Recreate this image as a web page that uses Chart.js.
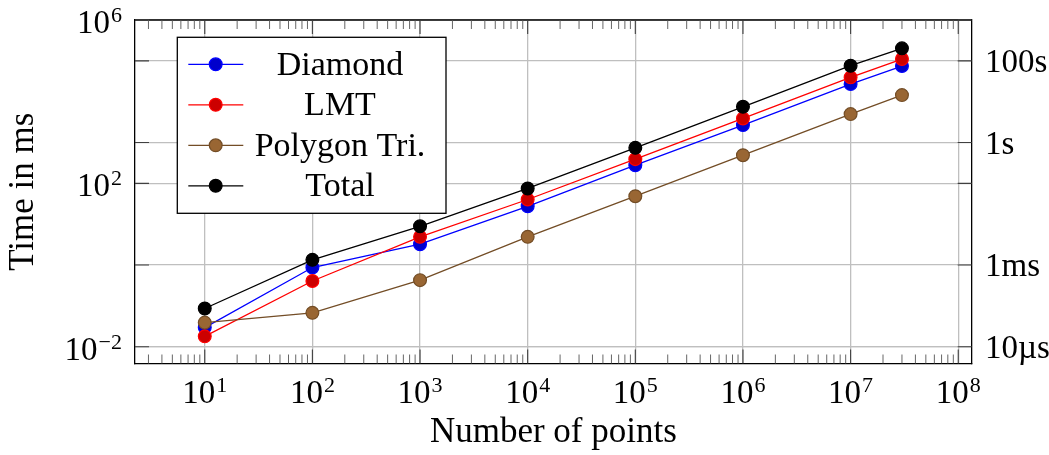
<!DOCTYPE html>
<html><head><meta charset="utf-8">
<script src="https://cdn.jsdelivr.net/npm/chart.js@4"></script>
<style>html,body{margin:0;padding:0;background:#fff}canvas{display:block}</style>
</head><body>
<canvas id="c" width="1049" height="455"></canvas>
<script>
// ---- data ----
const numberOfPoints = [10, 100, 1e3, 1e4, 1e5, 1e6, 1e7, 3e7];
const diamondMs  = [0.0295, 0.87, 3.24, 27.5, 279, 2670, 27000, 74600];
const lmtMs      = [0.018, 0.407, 4.9, 40.3, 392, 3890, 39400, 110700];
const polygonMs  = [0.039, 0.0676, 0.427, 4.9, 48.5, 490, 4970, 14500];
const totalMs    = [0.0865, 1.34, 8.9, 75, 741, 7500, 75900, 202000];
const seriesNames = ['Diamond', 'LMT', 'Polygon Tri.', 'Total'];

const xTickValues = [1e1, 1e2, 1e3, 1e4, 1e5, 1e6, 1e7, 1e8];
const xTickExponents = ['1', '2', '3', '4', '5', '6', '7', '8'];
const yLeftTickValues = [1e-2, 1e2, 1e6];
const yLeftTickExponents = ['\u22122', '2', '6'];
const yRightTickValues = [1e-2, 1, 1e3, 1e5];
const yRightTickLabels = ['10\u00b5s', '1ms', '1s', '100s'];
const xTitle = 'Number of points';
const yTitle = 'Time in ms';

// ---- styling ----
const FONT = '"Liberation Serif", "DejaVu Serif", serif';
const BASE = 33, SUP = 22, TITLE = 35, LEG = 34;
const GRID = '#bfbfbf';

function toXY(ys) { return numberOfPoints.map((x, i) => ({x, y: ys[i]})); }
function ds(label, ys, line, fill, order) {
  return {label, data: toXY(ys), showLine: true, borderColor: line, borderWidth: 1.3,
    pointBackgroundColor: fill, pointBorderColor: line, pointBorderWidth: 1.2,
    pointRadius: 6.4, pointHoverRadius: 6.4, fill: false, tension: 0, order};
}

function drawPow(ctx, exp, ax, baseline, align) {
  ctx.font = BASE + 'px ' + FONT; const wb = ctx.measureText('10').width;
  ctx.font = SUP + 'px ' + FONT; const we = ctx.measureText(exp).width;
  const total = wb + 1 + we;
  const left = align === 'center' ? ax - total / 2 : (align === 'right' ? ax - total : ax);
  ctx.textAlign = 'left'; ctx.textBaseline = 'alphabetic';
  ctx.font = BASE + 'px ' + FONT; ctx.fillText('10', left, baseline);
  ctx.font = SUP + 'px ' + FONT; ctx.fillText(exp, left + wb + 1, baseline - 11);
}

const decor = {
  id: 'decor',
  afterDraw(chart) {
    const {ctx, chartArea: a, scales: {x, y}} = chart;
    ctx.save();
    // top border
    ctx.strokeStyle = '#000'; ctx.lineWidth = 1.3;
    ctx.beginPath(); ctx.moveTo(a.left, a.top); ctx.lineTo(a.right, a.top); ctx.stroke();
    // tick marks
    ctx.strokeStyle = '#404040'; ctx.lineWidth = 1.1;
    ctx.beginPath();
    xTickValues.forEach(v => {
      const px = x.getPixelForValue(v);
      if (px < a.left || px > a.right) return;
      ctx.moveTo(px, a.bottom); ctx.lineTo(px, a.bottom - 14);
      ctx.moveTo(px, a.top); ctx.lineTo(px, a.top + 14);
    });
    yLeftTickValues.concat(yRightTickValues).forEach(v => {
      const py = y.getPixelForValue(v);
      ctx.moveTo(a.left, py); ctx.lineTo(a.left + 14, py);
      ctx.moveTo(a.right, py); ctx.lineTo(a.right - 14, py);
    });
    ctx.stroke();
    ctx.strokeStyle = '#555'; ctx.lineWidth = 0.9;
    ctx.beginPath();
    for (let k = 0; k <= 8; k++) {
      for (let m = 2; m <= 9; m++) {
        const v = m * Math.pow(10, k);
        if (v < x.min || v > x.max) continue;
        const px = x.getPixelForValue(v);
        ctx.moveTo(px, a.bottom); ctx.lineTo(px, a.bottom - 9);
        ctx.moveTo(px, a.top); ctx.lineTo(px, a.top + 9);
      }
    }
    ctx.stroke();
    // tick labels
    ctx.fillStyle = '#000';
    xTickValues.forEach((v, i) => drawPow(ctx, xTickExponents[i], x.getPixelForValue(v), a.bottom + 39.5, 'center'));
    yLeftTickValues.forEach((v, i) => drawPow(ctx, yLeftTickExponents[i], a.left - 13, y.getPixelForValue(v) + 13, 'right'));
    ctx.font = BASE + 'px ' + FONT; ctx.textAlign = 'left'; ctx.textBaseline = 'alphabetic';
    yRightTickValues.forEach((v, i) => ctx.fillText(yRightTickLabels[i], a.right + 13.3, y.getPixelForValue(v) + 11.2));
    // axis titles
    ctx.font = TITLE + 'px ' + FONT; ctx.textAlign = 'center';
    ctx.fillText(xTitle, (a.left + a.right) / 2, a.bottom + 78);
    ctx.save(); ctx.translate(33, (a.top + a.bottom) / 2); ctx.rotate(-Math.PI / 2);
    ctx.fillText(yTitle, 0, 0); ctx.restore();
    // legend
    const L = a.left + 42.3, T = a.top + 17.3, W = 268.7, H = 176;
    ctx.fillStyle = '#fff'; ctx.fillRect(L, T, W, H);
    ctx.strokeStyle = '#000'; ctx.lineWidth = 1.3; ctx.strokeRect(L, T, W, H);
    chart.data.datasets.forEach((d, i) => {
      const ry = T + 27 + i * 40.5;
      ctx.strokeStyle = d.borderColor; ctx.lineWidth = 1.3;
      ctx.beginPath(); ctx.moveTo(L + 11, ry); ctx.lineTo(L + 66, ry); ctx.stroke();
      ctx.beginPath(); ctx.arc(L + 38.4, ry, 6.4, 0, Math.PI * 2);
      ctx.fillStyle = d.pointBackgroundColor; ctx.fill();
      ctx.lineWidth = 1.2; ctx.strokeStyle = d.pointBorderColor; ctx.stroke();
      ctx.fillStyle = '#000'; ctx.font = LEG + 'px ' + FONT; ctx.textAlign = 'center';
      ctx.fillText(d.label, L + 162.7, ry + 10.5);
    });
    ctx.restore();
  }
};

const gridOpt = {color: GRID, lineWidth: 1.3, drawTicks: false};
const borderOpt = {display: true, color: '#000', width: 1.3};
const yMin = Math.pow(10, -2.41), yMax = 1e6;

new Chart(document.getElementById('c').getContext('2d'), {
  type: 'scatter',
  data: {datasets: [
    ds(seriesNames[0], diamondMs, '#0000ff', '#0000cc', 4),
    ds(seriesNames[1], lmtMs, '#ff0000', '#cc0000', 3),
    ds(seriesNames[2], polygonMs, '#734d26', '#996633', 2),
    ds(seriesNames[3], totalMs, '#000000', '#000000', 1)
  ]},
  options: {
    responsive: false, animation: false, devicePixelRatio: 1,
    layout: {padding: {top: 20, left: 0, right: 0, bottom: 0}},
    plugins: {legend: {display: false}, tooltip: {enabled: false}},
    events: [],
    scales: {
      x: {type: 'logarithmic', position: 'bottom', min: Math.pow(10, 0.352), max: Math.pow(10, 8.125),
          afterBuildTicks: s => { s.ticks = xTickValues.map(v => ({value: v})); },
          afterFit: s => { s.height = 91.5; },
          ticks: {display: false}, grid: gridOpt, border: borderOpt},
      y: {type: 'logarithmic', position: 'left', min: yMin, max: yMax,
          afterBuildTicks: s => { s.ticks = yLeftTickValues.map(v => ({value: v})); },
          afterFit: s => { s.width = 135; },
          ticks: {display: false}, grid: gridOpt, border: borderOpt},
      y2: {type: 'logarithmic', position: 'right', min: yMin, max: yMax,
          afterBuildTicks: s => { s.ticks = yRightTickValues.map(v => ({value: v})); },
          afterFit: s => { s.width = 77.3; },
          ticks: {display: false}, grid: gridOpt, border: borderOpt}
    }
  },
  plugins: [decor]
});
</script>
</body></html>
